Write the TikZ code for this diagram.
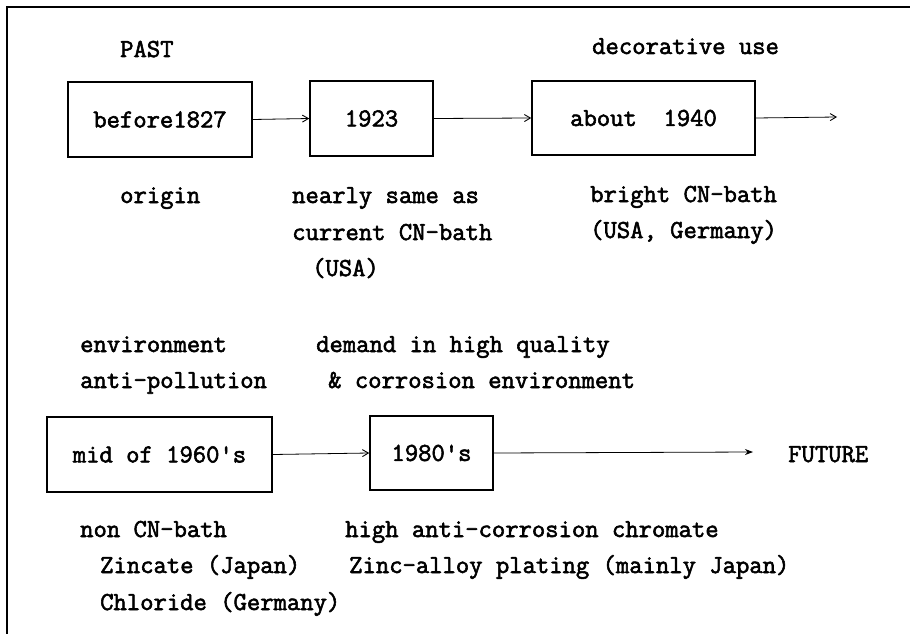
\documentclass[tikz,border=0pt]{standalone}
\usepackage{fontspec}
\setmonofont{Latin Modern Mono}[FakeBold=2.2]
\usetikzlibrary{arrows.meta}
\begin{document}
\begin{tikzpicture}[x=1pt,y=-1pt,
  txt/.style={anchor=base west,inner sep=0pt,font=\ttfamily\fontsize{25.9}{30}\selectfont},
  box/.style={draw,line width=1.5pt,rectangle,inner sep=0pt,font=\ttfamily\fontsize{25.9}{30}\selectfont},
  arr/.style={line width=0.8pt,-{Straight Barb[length=6pt,width=7pt,line width=0.9pt]}},
  arrf/.style={line width=0.8pt,-{Stealth[length=8pt,width=6pt]}},
  frame/.style={line width=1.8pt}]
\useasboundingbox (0,0) rectangle (910,634);
% frame
\draw[frame] (7,634) -- (7,7) -- (910,7);
% top row
\node[txt] (past) at (120,57) {PAST};
\node[txt] (deco) at (592,54) {decorative use};
\node[box,minimum width=184pt,minimum height=75pt] (b1) at (160,119.5) {before1827\hspace{13pt}};
\node[box,minimum width=123pt,minimum height=75pt] (b2) at (371.5,118.5) {1923\hspace{8pt}};
\node[box,minimum width=223pt,minimum height=74pt] (b3) at (643.5,118) {about~~1940\hspace{16pt}};
\coordinate (e3) at (837,117);
\draw[arr] (b1.east) -- (b2.west);
\draw[arr] (b2.east) -- (b3.west);
\draw[arr] (b3.east) -- (e3);
\node[txt] (orig) at (120,203) {origin};
\node[txt] (near1) at (292,203) {nearly same as};
\node[txt] (near2) at (292,240) {current CN-bath};
\node[txt] (near3) at (312,276) {(USA)};
\node[txt] (bri1) at (590,202) {bright CN-bath};
\node[txt] (bri2) at (590,238) {(USA, Germany)};
% bottom row
\node[txt] (env1) at (80,352) {environment};
\node[txt] (env2) at (80,388) {anti-pollution};
\node[txt] (dem1) at (316,352) {demand in high quality};
\node[txt] (dem2) at (328,388) {\& corrosion environment};
\node[box,minimum width=225pt,minimum height=75pt] (b4) at (159.5,454.5) {mid of 1960's\hspace{18pt}};
\node[box,minimum width=123pt,minimum height=74pt] (b5) at (431.5,453) {1980's};
\node[txt] (fut) at (788,462) {FUTURE};
\coordinate (e5) at (753,452);
\draw[arr] (b4.east) -- (b5.west);
\draw[arrf] (b5.east) -- (e5);
\node[txt] (non1) at (80,537) {non CN-bath};
\node[txt] (non2) at (100,573) {Zincate (Japan)};
\node[txt] (non3) at (100,610) {Chloride (Germany)};
\node[txt] (hi1) at (345,537) {high anti-corrosion chromate};
\node[txt] (hi2) at (349,573) {Zinc-alloy plating (mainly Japan)};
\end{tikzpicture}
\end{document}
